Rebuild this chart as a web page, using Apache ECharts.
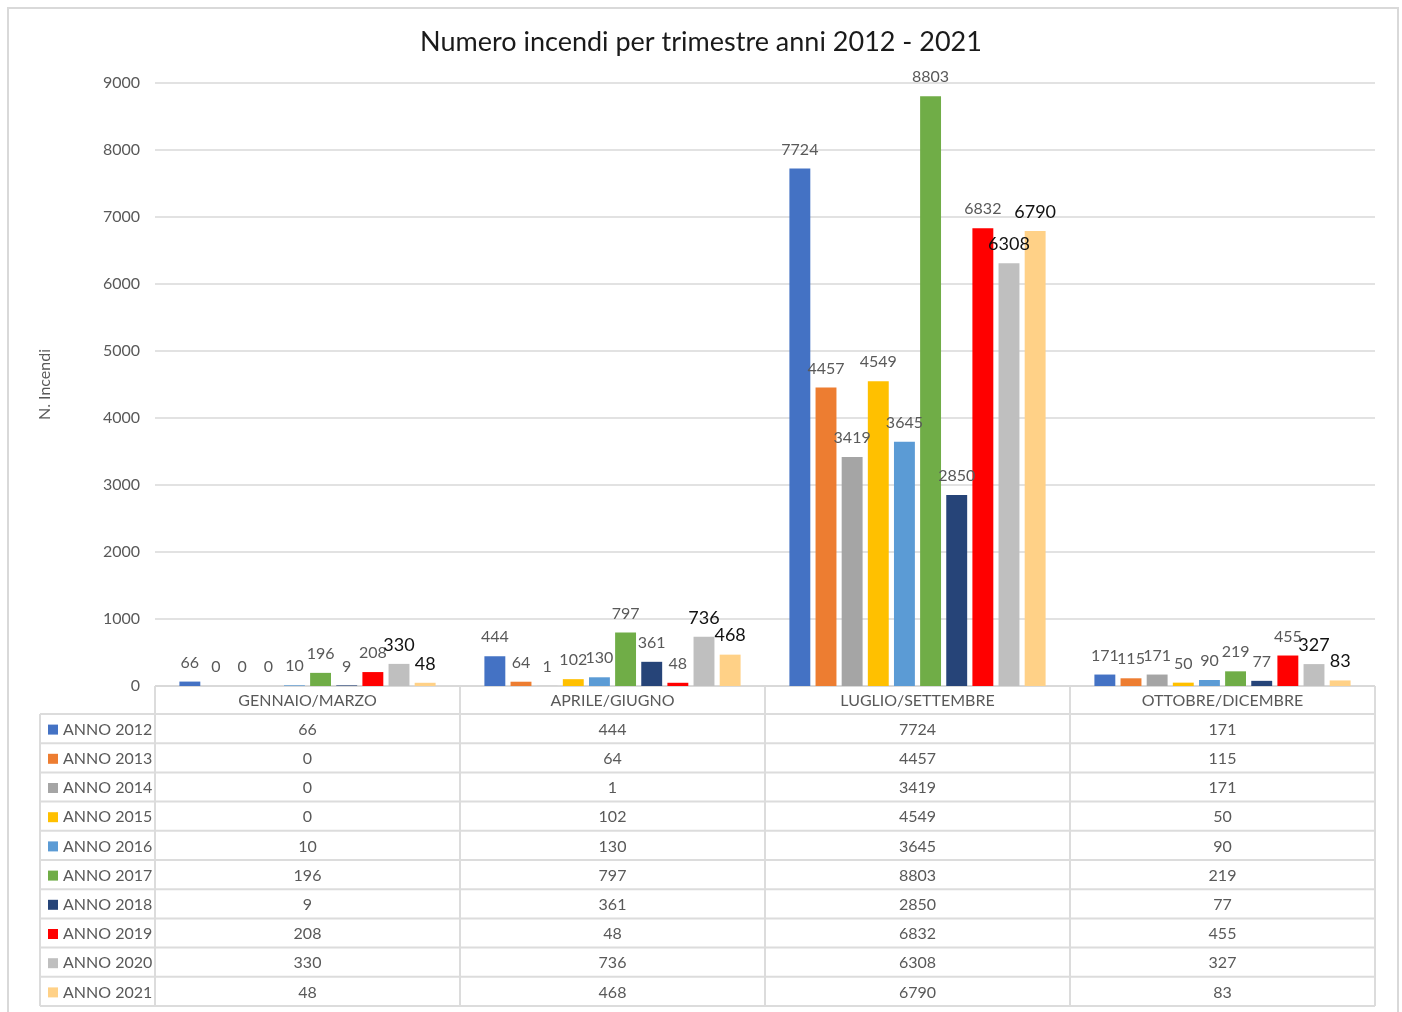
<!DOCTYPE html>
<html>
<head>
<meta charset="utf-8">
<script src="https://cdn.jsdelivr.net/npm/echarts@6/dist/echarts.min.js"></script>
<style>
  html, body { margin: 0; padding: 0; background: #fff; }
  #chart { width: 1402px; height: 1012px; }
</style>
</head>
<body>
<div id="chart"></div>
<script>
// Trimestri (categorie dell'asse X)
const categories = ['GENNAIO/MARZO', 'APRILE/GIUGNO', 'LUGLIO/SETTEMBRE', 'OTTOBRE/DICEMBRE'];

// Numero di incendi per anno, un valore per trimestre
const anno2012 = [66, 444, 7724, 171];
const anno2013 = [0, 64, 4457, 115];
const anno2014 = [0, 1, 3419, 171];
const anno2015 = [0, 102, 4549, 50];
const anno2016 = [10, 130, 3645, 90];
const anno2017 = [196, 797, 8803, 219];
const anno2018 = [9, 361, 2850, 77];
const anno2019 = [208, 48, 6832, 455];
const anno2020 = [330, 736, 6308, 327];
const anno2021 = [48, 468, 6790, 83];

const seriesNames = ['ANNO 2012', 'ANNO 2013', 'ANNO 2014', 'ANNO 2015', 'ANNO 2016',
                     'ANNO 2017', 'ANNO 2018', 'ANNO 2019', 'ANNO 2020', 'ANNO 2021'];
const seriesValues = [anno2012, anno2013, anno2014, anno2015, anno2016,
                      anno2017, anno2018, anno2019, anno2020, anno2021];
const seriesColors = ['#4472C4', '#ED7D31', '#A5A5A5', '#FFC000', '#5B9BD5',
                      '#70AD47', '#264478', '#FF0000', '#BFBFBF', '#FFD187'];

// Assi
const yTicks = { min: 0, max: 9000, interval: 1000 };

const FONT = 'Lato, "Open Sans", sans-serif';
const GRID = { left: 155, right: 27, top: 83, bottom: 326 };
const CHART_W = 1402, CHART_H = 1012;
const HEADER_H = 28, ROW_H = 29.2, LEGEND_LEFT = 40;
const LINE_COLOR = '#dcdcdc';
const TEXT_COLOR = '#595959';

const chart = echarts.init(document.getElementById('chart'), null, { renderer: 'canvas' });

const series = seriesNames.map((name, i) => {
  const emphasis = i >= 8; // ultime due serie con etichette più scure e più grandi
  return {
    name: name,
    type: 'bar',
    data: seriesValues[i],
    barGap: '25%',
    barCategoryGap: '16%',
    itemStyle: { color: seriesColors[i] },
    label: {
      show: true,
      position: 'top',
      distance: emphasis ? 10 : 11,
      fontFamily: FONT,
      fontSize: emphasis ? 18 : 16,
      color: emphasis ? '#111' : TEXT_COLOR
    }
  };
});

// Tabella dati sotto il grafico
function buildTable() {
  const plotLeft = GRID.left;
  const plotRight = CHART_W - GRID.right;
  const axisY = CHART_H - GRID.bottom;
  const colW = (plotRight - plotLeft) / categories.length;
  const tableTop = axisY;
  const rowsTop = tableTop + HEADER_H;
  const tableBottom = rowsTop + ROW_H * seriesNames.length;
  const els = [];
  const line = (x1, y1, x2, y2) => ({
    type: 'line', silent: true,
    shape: { x1, y1, x2, y2 },
    style: { stroke: LINE_COLOR, lineWidth: 2 }
  });
  // bordo esterno del grafico
  els.push({
    type: 'rect', silent: true,
    shape: { x: 8, y: 8, width: 1390, height: 1040 },
    style: { fill: null, stroke: '#d9d9d9', lineWidth: 2 }
  });
  // linee orizzontali
  els.push(line(plotLeft, tableTop, plotRight, tableTop));
  for (let r = 0; r <= seriesNames.length; r++) {
    const y = rowsTop + r * ROW_H;
    els.push(line(LEGEND_LEFT, y, plotRight, y));
  }
  // linee verticali
  els.push(line(LEGEND_LEFT, rowsTop, LEGEND_LEFT, tableBottom));
  for (let c = 0; c <= categories.length; c++) {
    const x = plotLeft + c * colW;
    els.push(line(x, tableTop, x, tableBottom));
  }
  // righe: chiave colore, nome serie e valori
  seriesNames.forEach((name, r) => {
    const cy = rowsTop + r * ROW_H + ROW_H / 2 + 1;
    els.push({
      type: 'rect', silent: true,
      shape: { x: 48, y: cy - 5, width: 10, height: 10 },
      style: { fill: seriesColors[r] }
    });
    els.push({
      type: 'text', silent: true,
      style: {
        x: 63, y: cy, text: name, fontFamily: FONT, fontSize: 16,
        fill: TEXT_COLOR, textAlign: 'left', textVerticalAlign: 'middle'
      }
    });
    seriesValues[r].forEach((v, c) => {
      els.push({
        type: 'text', silent: true,
        style: {
          x: plotLeft + c * colW + colW / 2, y: cy, text: String(v),
          fontFamily: FONT, fontSize: 16, fill: TEXT_COLOR,
          textAlign: 'center', textVerticalAlign: 'middle'
        }
      });
    });
  });
  return els;
}

chart.setOption({
  backgroundColor: '#fff',
  animation: false,
  title: {
    text: 'Numero incendi per trimestre anni 2012 - 2021',
    left: 'center',
    top: 24,
    textStyle: { fontFamily: FONT, fontSize: 27, fontWeight: 'normal', color: '#1a1a1a' }
  },
  grid: GRID,
  xAxis: {
    type: 'category',
    data: categories,
    axisLine: { show: false },
    axisTick: { show: false },
    axisLabel: {
      margin: 7,
      fontFamily: FONT, fontSize: 16, color: TEXT_COLOR
    }
  },
  yAxis: {
    type: 'value',
    min: yTicks.min,
    max: yTicks.max,
    interval: yTicks.interval,
    name: 'N. Incendi',
    nameLocation: 'middle',
    nameGap: 102,
    nameTextStyle: { fontFamily: FONT, fontSize: 16, color: TEXT_COLOR },
    axisLine: { show: false },
    axisTick: { show: false },
    axisLabel: {
      margin: 15, fontFamily: FONT, fontSize: 16, color: TEXT_COLOR,
      formatter: v => String(v)
    },
    splitLine: { lineStyle: { color: '#d9d9d9', width: 1.5 } }
  },
  series: series,
  graphic: buildTable()
});
</script>
</body>
</html>
